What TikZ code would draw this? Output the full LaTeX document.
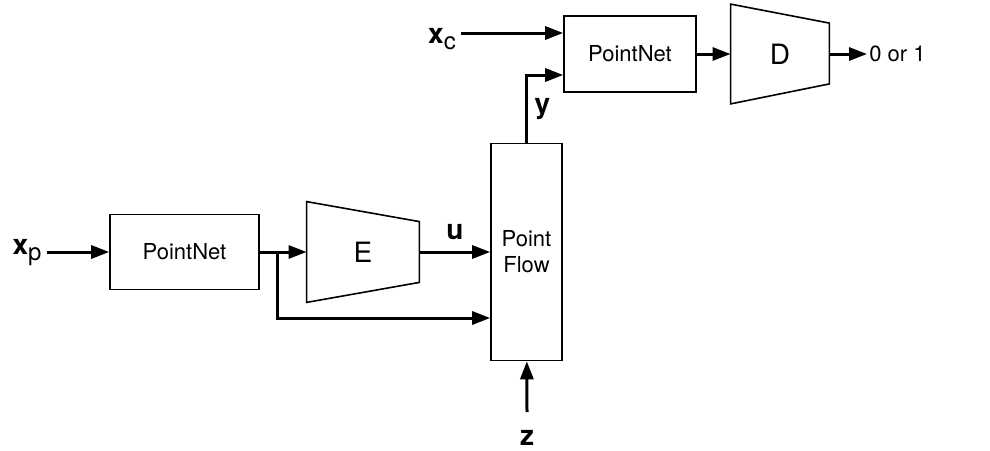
\documentclass[tikz,border=0pt]{standalone}
\usepackage{fontspec}
\setmainfont{TeX Gyre Heros}
\usetikzlibrary{arrows.meta, positioning, calc}

\newcommand{\sublab}[1]{\raisebox{-3pt}{\mdseries\fontsize{12}{14}\selectfont #1}}

\begin{document}
\begin{tikzpicture}[
  x=0.5pt, y=-0.5pt,
  block/.style={rectangle, draw, line width=0.8pt, align=center,
    font=\fontsize{11}{13}\selectfont},
  trap/.style={rectangle, minimum width=49pt, minimum height=50pt,
    font=\fontsize{14}{16}\selectfont},
  vlab/.style={font=\fontsize{14}{16}\selectfont\bfseries},
  >={Triangle[length=9pt, width=6.5pt]},
  arr/.style={draw, line width=1.5pt, ->},
  edge/.style={draw, line width=0.8pt},
]

% Canvas
\useasboundingbox (0,0) rectangle (990,450);

% Encoder side
\node[block, minimum width=74.5pt, minimum height=37.5pt] (pn1) at (184.5,252) {PointNet};
\node[trap, minimum width=56pt] (enc) at (363,252) {E};
\draw[edge] (enc.north west) -- ($(enc.north east)+(0,-10pt)$)
  -- ($(enc.south east)+(0,10pt)$) -- (enc.south west) -- cycle;
\node[block, minimum width=35.5pt, minimum height=108.5pt] (pf) at (526.5,252) {Point\\Flow};

% Discriminator side
\node[block, minimum width=66pt, minimum height=38pt] (pn2) at (630,54) {PointNet};
\node[trap, minimum height=49.5pt] (dis) at (780,54) {D};
\draw[edge] (dis.north west) -- ($(dis.north east)+(0,-9.5pt)$)
  -- ($(dis.south east)+(0,10pt)$) -- (dis.south west) -- cycle;

% Inputs and outputs
\node[vlab, inner sep=2.5pt] (xp) at (27,253) {x\sublab{p}};
\node[vlab, inner sep=2.5pt] (xc) at (442,39) {x\sublab{c}};
\node[vlab, inner sep=1pt] (z) at (527,438) {z};
\node[anchor=west, inner sep=1pt, font=\fontsize{11}{13}\selectfont] (out) at (867,54) {0 or 1};

\coordinate[right=9pt of pn1.east] (br);
\coordinate (pfb) at ($(pf.west)+(0,-33pt)$);
\coordinate (pn2a) at ($(pn2.west)+(0,10.5pt)$);
\coordinate (pn2b) at ($(pn2.west)+(0,-10.5pt)$);
\coordinate (zin) at (527,412);

\draw[arr] (xp.east |- pn1) -- (pn1);
\draw[arr] (pn1) -- (enc);
\draw[arr] (br) |- (pfb);
\draw[arr] (enc) -- node[vlab, above=2pt] (u) {u} (pf);
\draw[arr] (zin) -- (pf);
\draw[arr] (pf) |- node[vlab, pos=0.25, right] (y) {y} (pn2b);
\draw[arr] (xc.east |- pn2a) -- (pn2a);
\draw[arr] (pn2) -- (dis);
\draw[arr] (dis) -- (out);
\end{tikzpicture}
\end{document}
